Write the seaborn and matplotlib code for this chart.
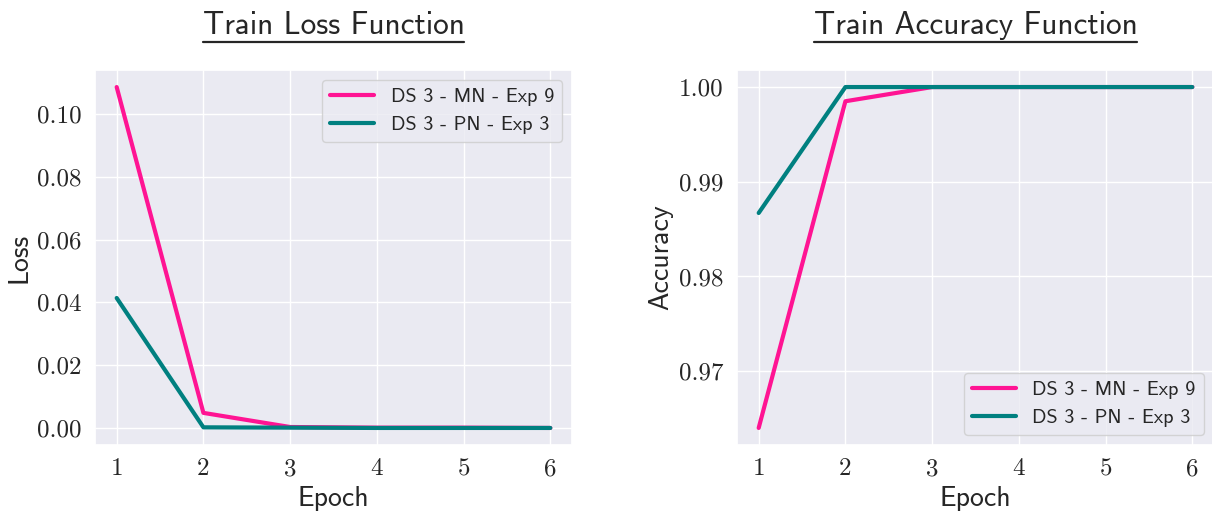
import numpy as np
import pandas as pd
import seaborn as sns
import matplotlib.pyplot as plt
from matplotlib.lines import Line2D

# values
epochs = [1, 2, 3, 4, 5, 6]
loss_mn = [0.1086, 0.0048, 0.0003, 0.0001, 0.0001, 0.0000]
loss_pn = [0.0414, 0.0002, 0.0001, 0.0000, 0.0000, 0.0000]
acc_mn = [0.9640, 0.9985, 1.0000, 1.0000, 1.0000, 1.0000]
acc_pn = [0.9867, 1.0000, 1.0000, 1.0000, 1.0000, 1.0000]
names = ["DS 3 - MN - Exp 9", "DS 3 - PN - Exp 3"]
colors = ["#FF1493", "#008080"]
loss_ticks = [0.0, 0.02, 0.04, 0.06, 0.08, 0.10]
acc_ticks = [0.97, 0.98, 0.99, 1.00]

sns.set_theme(style="darkgrid")
plt.rcParams["axes.formatter.use_mathtext"] = True

df = pd.DataFrame({
    "Epoch": epochs * 2,
    "Loss": loss_mn + loss_pn,
    "Accuracy": acc_mn + acc_pn,
    "run": [names[0]] * 6 + [names[1]] * 6,
})

fig, axes = plt.subplots(1, 2, figsize=(12.12, 5.12), dpi=100)
# axes boxes measured on the reference (pixels -> figure fractions)
axes[0].set_position([95 / 1212, 67 / 512, 477 / 1212, 375 / 512])
axes[1].set_position([737 / 1212, 67 / 512, 477 / 1212, 375 / 512])

sans = "cmss10"
serif = "cmr10"

for ax, col, title, loc, ticks in [
    (axes[0], "Loss", "Train Loss Function", "upper right", loss_ticks),
    (axes[1], "Accuracy", "Train Accuracy Function", "lower right", acc_ticks),
]:
    sns.lineplot(data=df, x="Epoch", y=col, hue="run", palette=colors,
                 linewidth=3, ax=ax)
    ax.set_xticks(epochs)
    ax.set_xticklabels([str(e) for e in epochs], fontfamily=serif, fontsize=18)
    ax.set_yticks(ticks)
    ax.set_yticklabels([f"{t:.2f}" for t in ticks], fontfamily=serif, fontsize=18)
    ax.set_xlabel("Epoch", fontsize=20, fontfamily=sans, labelpad=4)
    ax.set_ylabel(col, fontsize=20, fontfamily=sans)
    ax.set_title(title, fontsize=22.5, fontfamily=sans, pad=26)
    ax.legend(loc=loc, prop={"family": sans, "size": 14.5}, handlelength=2.2)

# underline the titles
fig.canvas.draw()
r = fig.canvas.get_renderer()
for ax in axes:
    bb = ax.title.get_window_extent(r).transformed(fig.transFigure.inverted())
    y = bb.y0 - 0.004
    fig.add_artist(Line2D([bb.x0, bb.x1], [y, y], color="#262626", lw=1.6,
                          transform=fig.transFigure))

fig.savefig("out.png", dpi=100)
